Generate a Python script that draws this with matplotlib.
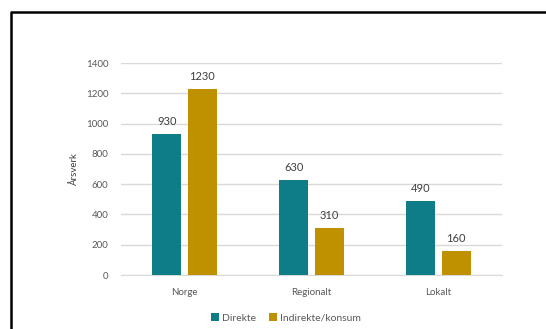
import matplotlib
matplotlib.use("Agg")
import matplotlib.pyplot as plt
import numpy as np
from matplotlib.lines import Line2D

plt.rcParams['font.family'] = ['Lato', 'DejaVu Sans']

categories = ["Norge", "Regionalt", "Lokalt"]
direkte = [930, 630, 490]
indirekte = [1230, 310, 160]
series_names = ["Direkte", "Indirekte/konsum"]
colors = ["#0F7D87", "#BF9000"]

fig = plt.figure(figsize=(5.46, 3.29), dpi=100)
ax = fig.add_axes([121 / 546, 0.1641, 381 / 546, 0.6444])

x = np.arange(len(categories))
w = 0.225
off = 0.14
b1 = ax.bar(x - off, direkte, w, color=colors[0], label=series_names[0], zorder=3)
b2 = ax.bar(x + off, indirekte, w, color=colors[1], label=series_names[1], zorder=3)

for bars, vals in ((b1, direkte), (b2, indirekte)):
    for r, v in zip(bars, vals):
        ax.annotate(str(v), (r.get_x() + r.get_width() / 2, v), xytext=(0, 5),
                    textcoords="offset points", ha="center", va="bottom",
                    fontsize=8, color="#404040")

ax.set_xlim(-0.5, 2.5)
ax.set_ylim(0, 1400)
ax.set_yticks(range(0, 1401, 200))
ax.set_xticks(x)
ax.set_xticklabels(categories)
ax.yaxis.grid(True, color="#d9d9d9", linewidth=1, zorder=0)
for s in ["top", "right", "left"]:
    ax.spines[s].set_visible(False)
ax.spines["bottom"].set_color("#d9d9d9")
ax.tick_params(length=0, labelsize=7, colors="#595959", pad=9)
ax.set_ylabel("Årsverk", fontsize=7, color="#404040", labelpad=5)

fig.legend(handles=[b1, b2], labels=series_names, loc="center",
           bbox_to_anchor=(286 / 546, 1 - 318 / 329), ncol=2, frameon=False,
           fontsize=7.5, handlelength=0.7, handleheight=0.7, handletextpad=0.3,
           columnspacing=1.3, labelcolor="#595959")

# frame on the left and top
fx = 11 / 546
fy = 1 - 12 / 329
fig.add_artist(Line2D([fx, fx, 1.0], [0.0, fy, fy], color="black",
                      linewidth=1.8, transform=fig.transFigure))

fig.savefig("out.png", dpi=100)
